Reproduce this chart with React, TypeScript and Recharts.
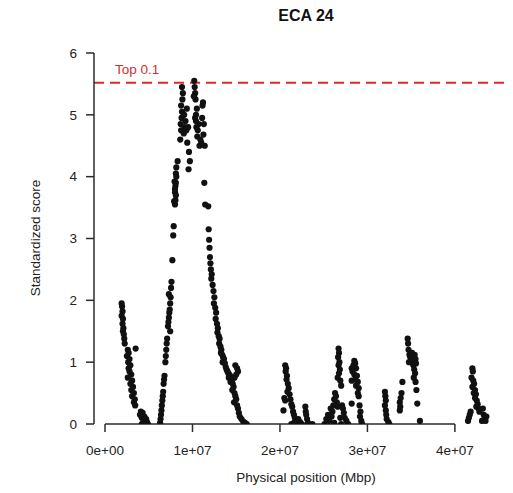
import { ScatterChart, Scatter, XAxis, YAxis, ReferenceLine } from "recharts";

// positions in Mbp, scores
const leftShoulder = [
  [1.9, 1.95], [1.95, 1.9], [2.0, 1.82], [1.9, 1.75], [2.05, 1.7], [2.0, 1.62], [2.1, 1.55], [2.05, 1.5],
  [2.15, 1.45], [2.2, 1.38], [2.25, 1.3], [2.6, 1.2], [2.7, 1.15], [2.5, 1.1], [2.8, 1.05], [2.65, 1.0],
  [2.9, 0.95], [2.7, 0.9], [2.8, 0.85], [3.0, 0.8], [2.6, 0.75], [3.1, 0.7], [2.9, 0.65], [3.2, 0.6],
  [3.0, 0.55], [3.3, 0.5], [3.1, 0.45], [3.4, 0.4], [3.3, 0.35], [3.45, 0.3], [3.5, 1.22],
  [4.0, 0.15], [4.1, 0.2], [4.2, 0.1], [4.3, 0.18], [4.4, 0.05], [4.5, 0.12], [4.6, 0.02], [4.7, 0.08],
  [4.8, 0.03], [4.9, 0.0], [4.2, 0.0], [4.5, 0.0],
];

const risingFlank = [
  [6.3, 0.02], [6.35, 0.08], [6.4, 0.15], [6.45, 0.22], [6.5, 0.3], [6.55, 0.38], [6.6, 0.45], [6.65, 0.52],
  [6.7, 0.65], [6.75, 0.72], [6.8, 0.78], [6.9, 1.0], [6.95, 1.1], [7.0, 1.2], [7.05, 1.3], [7.1, 1.38],
  [7.2, 1.58], [7.25, 1.65], [7.3, 1.72], [7.35, 1.8], [7.4, 1.85], [7.45, 1.95], [7.5, 2.05], [7.3, 2.1],
  [7.55, 2.2], [7.6, 2.3], [7.45, 1.5], [7.7, 2.65], [7.8, 3.05], [7.85, 3.2], [7.9, 3.6], [8.0, 3.75],
  [8.05, 3.85], [7.95, 3.92], [8.1, 4.05], [8.15, 4.15], [8.3, 4.25],
];

const peak = [
  [8.0, 3.55], [8.05, 3.62], [8.1, 3.7], [8.0, 3.8], [8.1, 3.9], [8.15, 4.0],
  [8.6, 4.6], [8.7, 4.75], [8.65, 4.85], [8.75, 4.95], [8.8, 5.05], [8.7, 5.15], [8.85, 5.25], [8.9, 5.35],
  [8.8, 5.45], [9.0, 4.7], [9.1, 4.8], [9.2, 4.9], [9.05, 5.0], [9.3, 4.75], [9.4, 4.55], [9.5, 4.8],
  [9.35, 5.1], [9.6, 4.4], [9.7, 4.25], [9.55, 4.12],
  [10.2, 5.55], [10.25, 5.45], [10.3, 5.35], [10.35, 5.25], [10.15, 5.3], [10.4, 5.0], [10.5, 5.1],
  [10.3, 4.95], [10.45, 4.8], [10.6, 4.75], [10.7, 4.85], [10.55, 4.65], [10.4, 4.9], [10.8, 4.5],
  [10.9, 4.6], [11.0, 4.55], [11.1, 4.95], [11.2, 5.2], [11.15, 5.15], [11.3, 4.85], [11.25, 4.68],
  [11.4, 4.5], [11.35, 3.9], [11.45, 3.55],
];

const fallingFlank = [
  [11.8, 3.52], [11.85, 3.15], [11.9, 2.98], [11.95, 2.85], [12.0, 2.7], [12.05, 2.6], [12.1, 2.5],
  [12.2, 2.42], [12.15, 2.35], [12.3, 2.25], [12.4, 2.15], [12.5, 2.05], [12.45, 1.95], [12.6, 1.88],
  [12.7, 1.8], [12.65, 1.7], [12.8, 1.62], [12.9, 1.55], [12.85, 1.48], [13.0, 1.42], [13.1, 1.38],
  [13.05, 1.3], [13.2, 1.25], [13.3, 1.2], [13.25, 1.15], [13.4, 1.12], [13.5, 1.08], [13.6, 1.05],
  [13.45, 1.0], [13.7, 0.98], [13.8, 0.92], [13.9, 0.88], [14.0, 0.85], [14.1, 0.82], [14.2, 0.8],
  [14.3, 0.78], [14.15, 0.75], [14.4, 0.72], [14.5, 0.7], [14.35, 0.68], [14.6, 0.65], [14.7, 0.6],
  [14.55, 0.55], [14.8, 0.5], [14.9, 0.45], [15.0, 0.4], [14.75, 0.35], [15.1, 0.3], [15.2, 0.25],
  [15.3, 0.18], [15.4, 0.12], [15.6, 0.08], [15.8, 0.04], [16.0, 0.02], [16.2, 0.0],
  [14.9, 0.95], [15.1, 0.9], [15.0, 0.8], [15.2, 0.85], [14.8, 0.75],
];

const around20M = [
  [20.6, 0.95], [20.7, 0.9], [20.65, 0.85], [20.8, 0.78], [20.75, 0.72], [20.9, 0.65], [21.0, 0.58],
  [20.85, 0.52], [21.1, 0.48], [20.5, 0.42], [21.2, 0.4], [20.6, 0.38], [21.3, 0.32], [20.4, 0.22],
  [21.4, 0.28], [21.5, 0.2], [21.6, 0.15], [21.7, 0.1], [21.8, 0.05], [21.9, 0.0], [22.1, 0.08],
  [22.3, 0.03], [22.5, 0.0], [22.9, 0.28], [22.95, 0.2], [23.0, 0.15], [23.1, 0.08], [23.2, 0.02],
  [23.7, 0.0], [21.3, 0.0], [21.6, 0.02],
];

const around27M = [
  [26.7, 1.22], [26.75, 1.15], [26.65, 1.08], [26.8, 1.0], [26.7, 0.95], [26.85, 0.88], [26.75, 0.82],
  [26.6, 0.75], [26.9, 0.7], [27.0, 0.62], [26.3, 0.5], [26.4, 0.45], [26.2, 0.4], [26.5, 0.35],
  [26.1, 0.3], [26.6, 0.28], [25.8, 0.25], [26.0, 0.2], [25.5, 0.15], [25.9, 0.12], [25.3, 0.08],
  [25.6, 0.05], [26.2, 0.02], [25.1, 0.0], [27.1, 0.3], [27.2, 0.25], [27.3, 0.18], [27.4, 0.1],
  [27.6, 0.05], [27.8, 0.0], [28.2, 0.33], [26.9, 0.1], [27.0, 0.0],
  [28.2, 0.9], [28.4, 0.95], [28.5, 1.02], [28.6, 0.98], [28.3, 0.85], [28.7, 0.9], [28.5, 0.8],
  [28.8, 0.78], [28.6, 0.72], [28.9, 0.68], [28.7, 0.62], [29.0, 0.58], [28.9, 0.5], [29.0, 0.45],
  [28.2, 0.7], [29.1, 0.3], [29.2, 0.2], [29.15, 0.12], [29.3, 0.05], [29.4, 0.0],
];

const around34M = [
  [32.0, 0.52], [32.05, 0.45], [32.1, 0.38], [32.0, 0.3], [32.1, 0.22], [32.15, 0.15], [32.2, 0.08],
  [32.4, 0.03], [32.5, 0.0],
  [33.7, 0.35], [33.75, 0.28], [33.8, 0.42], [33.9, 0.5], [33.7, 0.22], [34.0, 0.68], [34.6, 1.38],
  [34.65, 1.3], [34.7, 1.2], [34.8, 1.12], [34.9, 1.08], [35.0, 1.05], [34.75, 1.0], [35.1, 1.15],
  [35.2, 1.1], [35.3, 1.02], [35.25, 0.95], [35.4, 1.12], [35.5, 1.05], [35.35, 0.88], [35.45, 0.82],
  [35.5, 0.68], [35.6, 0.55], [35.3, 0.75], [35.55, 0.98], [36.0, 0.05], [35.7, 0.33],
];

const chromEnd = [
  [42.0, 0.9], [42.05, 0.85], [41.9, 0.75], [42.1, 0.7], [42.2, 0.65], [42.0, 0.6], [42.3, 0.55],
  [42.15, 0.5], [42.4, 0.48], [42.3, 0.42], [42.5, 0.38], [42.6, 0.32], [42.45, 0.28], [42.7, 0.25],
  [41.8, 0.2], [41.7, 0.15], [41.6, 0.1], [41.5, 0.05], [43.2, 0.25], [43.3, 0.15], [43.4, 0.1],
  [43.5, 0.05], [43.1, 0.05], [42.8, 0.2], [43.6, 0.12],
];

const xTicks = [0, 1e7, 2e7, 3e7, 4e7];
const xTickLabels = ["0e+00", "1e+07", "2e+07", "3e+07", "4e+07"];
const yTicks = [0, 1, 2, 3, 4, 5, 6];
const topThreshold = 5.52;

const points = [
  ...leftShoulder, ...risingFlank, ...peak, ...fallingFlank,
  ...around20M, ...around27M, ...around34M, ...chromEnd,
].map(([mbp, score]) => ({ pos: mbp * 1e6, score }));

const FONT = "'Liberation Sans', Arial, sans-serif";
const AXIS = "#2b2b2b";

const Dot = (props: any) => <circle cx={props.cx} cy={props.cy} r={3.1} fill="#111" />;

export default function App() {
  return (
    <div style={{ position: "absolute", left: 0, top: 0, width: 513, height: 493, background: "#fff", fontFamily: FONT }}>
      <div style={{ position: "absolute", left: 0, width: 612, top: 7, textAlign: "center", fontWeight: 700, fontSize: 16, color: "#111" }}>
        ECA 24
      </div>
      <ScatterChart width={513} height={493} margin={{ top: 53, right: 3, bottom: 39, left: 0 }}>
        <XAxis
          type="number"
          dataKey="pos"
          domain={[-1.26e6, 4.63e7]}
          ticks={xTicks}
          tickFormatter={(v: number) => xTickLabels[xTicks.indexOf(v)]}
          axisLine={false}
          tickLine={{ stroke: AXIS, strokeWidth: 1.5 }}
          tickSize={8}
          tickMargin={13}
          height={30}
          tick={{ fill: "#222", fontSize: 13.5, fontFamily: FONT }}
          allowDataOverflow
        />
        <YAxis
          type="number"
          dataKey="score"
          domain={[0, 6]}
          ticks={yTicks}
          width={94}
          axisLine={{ stroke: AXIS, strokeWidth: 1.5 }}
          tickLine={{ stroke: AXIS, strokeWidth: 1.5 }}
          tickSize={8}
          tickMargin={9}
          tick={{ fill: "#222", fontSize: 13.5, fontFamily: FONT }}
          allowDataOverflow
        />
        <ReferenceLine
          segment={[{ x: 0, y: 0 }, { x: 4e7, y: 0 }]}
          stroke={AXIS}
          strokeWidth={1.5}
          ifOverflow="visible"
        />
        <ReferenceLine
          y={topThreshold}
          stroke="#e0282a"
          strokeWidth={2}
          strokeDasharray="10 6"
          label={(p: any) => (
            <text x={p.viewBox.x + 21} y={p.viewBox.y - 9} fill="#cc3333" fontSize={13.5} fontFamily={FONT}>
              Top 0.1
            </text>
          )}
        />
        <Scatter data={points} shape={Dot} isAnimationActive={false} />
      </ScatterChart>
      <div style={{ position: "absolute", left: 0, width: 612, top: 470, textAlign: "center", fontSize: 13.5, color: "#222" }}>
        Physical position (Mbp)
      </div>
      <div
        style={{
          position: "absolute",
          left: 35,
          top: 238,
          transform: "translate(-50%, -50%) rotate(-90deg)",
          whiteSpace: "nowrap",
          fontSize: 13.5,
          color: "#222",
        }}
      >
        Standardized score
      </div>
    </div>
  );
}
